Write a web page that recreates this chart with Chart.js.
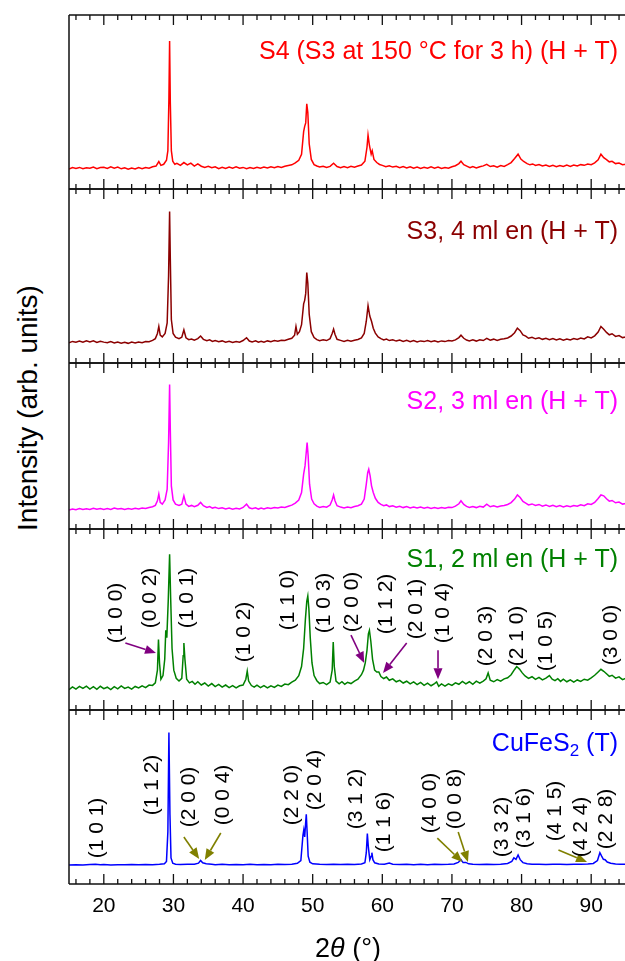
<!DOCTYPE html>
<html><head><meta charset="utf-8">
<script src="https://cdn.jsdelivr.net/npm/chart.js@4.4.1/dist/chart.umd.min.js"></script>
<style>
html,body{margin:0;padding:0;background:#fff;overflow:hidden;width:625px;height:961px;}
#wrap{position:relative;width:625px;height:961px;overflow:hidden;font-family:"Liberation Sans",Arial,sans-serif;}
canvas{position:absolute;}
.t{position:absolute;white-space:nowrap;line-height:1;}
.lbl{position:absolute;white-space:nowrap;font-size:21px;color:#000;line-height:1;transform:translate(-50%,-50%) rotate(-90deg);}
</style></head><body><div id="wrap"></div>
<script>
// ---------- axis / tick data ----------
const xMin = 15, xMax = 95;
const majorTicks = [20,30,40,50,60,70,80,90];
const minorTicks = [16,18,22,24,26,28,32,34,36,38,42,44,46,48,52,54,56,58,62,64,66,68,72,74,76,78,82,84,86,88,92,94];
const xTitle = '2<i>θ</i> (°)';
const yTitle = 'Intensity (arb. units)';

// ---------- series (2θ, intensity in panel units) ----------
const s4 = [[15,11.5],[15.5,12.3],[16,11.8],[16.5,12.4],[17,11.6],[17.5,12.2],[18,11.9],[18.5,12.6],[19,11.7],[19.5,12.3],[20,12.5],[20.5,11.8],[21,12.7],[21.5,12.0],[22,12.6],[22.5,11.6],[23,12.2],[23.5,11.4],[24,12.0],[24.5,11.5],[25,12.3],[25.5,11.7],[26,12.4],[26.5,12.0],[27,12.8],[27.5,13.2],[27.9,15.8],[28.2,13.6],[28.6,14.2],[29.0,16.5],[29.2,22],[29.35,52],[29.45,85],[29.55,50],[29.7,22],[29.9,16],[30.2,14.2],[30.5,14.8],[31,13.6],[31.5,15.2],[32,13.8],[32.5,14.9],[33,13.2],[33.5,14.4],[34,13.1],[34.5,12.4],[35,13.0],[35.5,12.2],[36,12.8],[36.5,11.7],[37,12.5],[37.5,11.8],[38,12.6],[38.5,12.0],[39,12.7],[39.5,11.9],[40,12.4],[40.5,11.6],[41,12.3],[41.5,11.8],[42,12.5],[42.5,11.9],[43,12.6],[43.5,12.1],[44,12.8],[44.5,12.2],[45,12.9],[45.5,12.4],[46,13.1],[46.5,13.5],[47,13.9],[47.5,15.0],[48,16.5],[48.4,20],[48.7,33],[48.85,36],[49.0,38],[49.15,49],[49.3,44],[49.5,26],[49.8,17],[50.2,14],[50.6,13.2],[51,12.6],[51.5,13.1],[52,12.4],[52.5,13.0],[53,14.8],[53.5,12.9],[54,12.2],[54.5,12.9],[55,12.3],[55.5,13.0],[56,12.5],[56.5,13.2],[57,13.8],[57.5,16],[57.8,24],[57.95,31],[58.15,25],[58.4,20],[58.55,22],[58.8,17],[59.2,15.2],[59.6,14.1],[60,13.6],[60.5,12.8],[61,13.4],[61.5,12.6],[62,13.1],[62.5,12.3],[63,12.9],[63.5,12.1],[64,12.8],[64.5,11.9],[65,12.6],[65.5,11.8],[66,12.5],[66.5,11.9],[67,12.7],[67.5,12.0],[68,12.6],[68.5,11.8],[69,12.4],[69.5,12.0],[70,12.8],[70.5,13.4],[71,14.6],[71.3,16],[71.7,14],[72.2,13.0],[72.6,12.2],[73,12.9],[73.5,12.1],[74,12.8],[74.5,13.3],[75,14.2],[75.5,12.9],[76,13.4],[76.5,12.6],[77,13.5],[77.5,13.0],[78,14.0],[78.5,15.2],[79,17.5],[79.5,20],[79.9,17.2],[80.3,15.8],[80.8,14.6],[81.2,13.9],[81.6,14.4],[82,13.5],[82.5,14.1],[83,13.2],[83.5,13.8],[84,12.9],[84.5,13.6],[85,12.8],[85.5,13.5],[86,12.9],[86.5,13.7],[87,13.0],[87.5,13.8],[88,13.2],[88.5,14.0],[89,13.6],[89.5,14.3],[90,14.0],[90.5,15.0],[91,16.8],[91.4,20],[91.8,18],[92.2,16.9],[92.6,15.6],[93,15.9],[93.5,14.6],[94,14.9],[94.5,14.0],[95,14.3]];

const s3 = [[15,11.6],[15.5,12.4],[16,11.9],[16.5,12.6],[17,12.0],[17.5,12.8],[18,12.1],[18.5,12.7],[19,11.8],[19.5,12.5],[20,12.0],[20.5,11.6],[21,12.3],[21.5,11.5],[22,12.1],[22.5,11.4],[23,11.9],[23.5,11.3],[24,12.0],[24.5,11.5],[25,12.1],[25.5,11.7],[26,12.4],[26.5,12.2],[27,13.0],[27.4,14.0],[27.7,17],[27.9,21],[28.1,16],[28.4,15.0],[28.8,17],[29.1,23],[29.3,50],[29.45,87],[29.55,60],[29.7,25],[29.95,17],[30.3,14.8],[30.8,14.0],[31.2,14.8],[31.5,19],[31.8,14.5],[32.2,13.4],[32.6,13.8],[33,13.1],[33.5,14.0],[33.9,15.5],[34.3,13.6],[34.8,12.8],[35.2,13.3],[35.6,12.4],[36,12.9],[36.5,12.2],[37,12.7],[37.5,12.0],[38,12.5],[38.5,11.8],[39,12.4],[39.5,12.0],[40,12.9],[40.5,14.5],[40.9,12.6],[41.3,12.1],[41.8,12.7],[42.2,11.9],[42.6,12.5],[43,12.0],[43.5,12.7],[44,12.2],[44.5,12.9],[45,12.5],[45.5,13.1],[46,12.9],[46.5,13.6],[47,14.2],[47.4,16],[47.6,21],[47.8,16.5],[48.1,18],[48.4,22],[48.7,34],[48.85,36],[49.0,40],[49.15,52],[49.3,46],[49.5,28],[49.8,18],[50.2,14.6],[50.6,13.4],[51,12.8],[51.5,13.3],[52,12.9],[52.5,14.0],[52.8,17],[53.0,19.5],[53.2,16.5],[53.5,13.6],[54,13.0],[54.5,12.4],[55,13.0],[55.5,12.5],[56,13.1],[56.5,13.5],[57,14.4],[57.4,17],[57.7,24],[57.95,33],[58.2,27],[58.45,24],[58.7,20],[59,17.2],[59.4,15.0],[59.8,14.0],[60.2,13.2],[60.6,13.8],[61,12.9],[61.5,13.4],[62,12.6],[62.5,13.2],[63,12.4],[63.5,13.0],[64,12.2],[64.5,12.9],[65,12.1],[65.5,12.7],[66,12.3],[66.5,12.9],[67,12.2],[67.5,12.8],[68,12.1],[68.5,12.7],[69,12.3],[69.5,12.9],[70,12.6],[70.5,13.3],[71,14.6],[71.3,16],[71.7,14.2],[72.1,13.2],[72.5,12.7],[73,13.3],[73.5,12.6],[74,13.4],[74.5,12.9],[75,14.2],[75.5,13.1],[76,13.7],[76.5,13.0],[77,13.6],[77.5,13.9],[78,14.4],[78.5,15.5],[79,17.4],[79.4,20],[79.8,18.6],[80.2,16.2],[80.6,15.4],[81,14.2],[81.5,14.8],[82,13.9],[82.5,14.5],[83,13.6],[83.5,14.2],[84,13.4],[84.5,14.1],[85,13.2],[85.5,13.9],[86,13.1],[86.5,13.8],[87,13.2],[87.5,14.0],[88,13.5],[88.5,14.4],[89,13.8],[89.5,15.0],[90,14.4],[90.5,15.6],[91,17.8],[91.4,21],[91.8,19.4],[92.2,17.6],[92.6,16.2],[93,16.8],[93.5,15.3],[94,15.8],[94.5,14.6],[95,15.0]];

const s2 = [[15,11.4],[15.5,12.1],[16,11.6],[16.5,12.3],[17,11.7],[17.5,12.2],[18,11.8],[18.5,12.5],[19,11.9],[19.5,12.4],[20,11.7],[20.5,12.3],[21,11.8],[21.5,12.6],[22,12.0],[22.5,12.4],[23,11.7],[23.5,12.3],[24,11.9],[24.5,12.5],[25,12.1],[25.5,12.7],[26,12.3],[26.5,13.0],[27,13.4],[27.4,14.2],[27.7,17],[27.9,21],[28.1,16],[28.4,15.0],[28.8,17.5],[29.1,24],[29.3,52],[29.45,87],[29.55,60],[29.7,26],[29.95,17.5],[30.3,15.0],[30.8,14.2],[31.2,15.0],[31.5,20],[31.8,15],[32.2,13.6],[32.6,14.2],[33,13.4],[33.5,14.3],[33.9,16],[34.3,14.0],[34.8,13.0],[35.2,13.5],[35.6,12.6],[36,13.1],[36.5,12.3],[37,12.8],[37.5,12.1],[38,12.6],[38.5,11.9],[39,12.5],[39.5,12.1],[40,13.0],[40.5,15],[40.9,12.8],[41.3,12.2],[41.8,12.8],[42.2,12.0],[42.6,12.6],[43,12.1],[43.5,12.8],[44,12.3],[44.5,13.0],[45,12.6],[45.5,13.2],[46,13.0],[46.5,13.7],[47,14.4],[47.5,15.6],[48,17.5],[48.4,22],[48.7,33],[48.9,38],[49.05,45],[49.2,52],[49.35,44],[49.55,27],[49.85,18],[50.2,15.2],[50.6,13.8],[51,13.0],[51.5,13.6],[52,13.1],[52.5,14.4],[52.8,17.5],[53.0,20.5],[53.2,17],[53.5,14.0],[54,13.2],[54.5,12.7],[55,13.3],[55.5,12.8],[56,13.5],[56.5,14.0],[57,15.0],[57.4,18],[57.7,27],[57.9,34],[58.05,36],[58.25,32],[58.45,26],[58.7,22],[59,18.5],[59.4,16.0],[59.8,14.8],[60.2,14.0],[60.6,14.5],[61,13.5],[61.5,14.0],[62,13.1],[62.5,13.7],[63,12.9],[63.5,13.5],[64,12.7],[64.5,13.3],[65,12.6],[65.5,13.2],[66,12.5],[66.5,13.1],[67,12.4],[67.5,13.0],[68,12.3],[68.5,12.9],[69,12.5],[69.5,13.1],[70,12.9],[70.5,13.8],[71,15.2],[71.3,17],[71.7,14.8],[72.1,13.6],[72.5,13.0],[73,13.6],[73.5,12.9],[74,13.7],[74.5,13.2],[75,15],[75.5,13.4],[76,14.0],[76.5,13.3],[77,13.9],[77.5,14.2],[78,14.8],[78.5,15.9],[79,18.0],[79.4,20.5],[79.8,19.0],[80.2,16.6],[80.6,15.6],[81,14.5],[81.5,15.1],[82,14.2],[82.5,14.8],[83,13.8],[83.5,14.5],[84,13.6],[84.5,14.3],[85,13.4],[85.5,14.1],[86,13.3],[86.5,14.0],[87,13.4],[87.5,14.2],[88,13.7],[88.5,14.6],[89,14.0],[89.5,15.2],[90,14.8],[90.5,16.0],[91,18.4],[91.4,20.5],[91.8,20.0],[92.2,18.2],[92.6,16.8],[93,17.2],[93.5,15.8],[94,16.2],[94.5,15.0],[95,15.4]];

const s1 = [[15,11.2],[15.5,12.8],[16,11.5],[16.5,13.0],[17,11.9],[17.5,13.2],[18,11.6],[18.5,12.9],[19,11.4],[19.5,13.1],[20,11.8],[20.5,12.6],[21,11.3],[21.5,12.9],[22,11.7],[22.5,13.3],[23,11.9],[23.5,12.7],[24,11.5],[24.5,13.0],[25,12.2],[25.5,13.4],[26,12.4],[26.5,13.8],[27,13.6],[27.4,15.0],[27.7,22],[27.85,39],[28.0,26],[28.2,17],[28.5,19],[28.75,28],[28.9,44],[29.05,40],[29.25,60],[29.45,86],[29.6,62],[29.8,34],[30.05,22],[30.4,17.5],[30.8,16.0],[31.2,17.5],[31.4,30],[31.5,37],[31.65,28],[31.9,17],[32.3,15.0],[32.7,15.8],[33.1,14.2],[33.5,15.6],[34,13.8],[34.5,14.9],[35,13.2],[35.5,14.6],[36,12.9],[36.5,14.1],[37,12.6],[37.5,13.8],[38,12.4],[38.5,13.5],[39,12.2],[39.5,13.4],[40,13.8],[40.4,17],[40.6,21.5],[40.8,16],[41.2,13.5],[41.6,12.6],[42,13.7],[42.5,12.4],[43,13.5],[43.5,12.2],[44,13.4],[44.5,12.5],[45,13.8],[45.5,13.0],[46,14.3],[46.5,14.0],[47,15.4],[47.5,16.5],[48,19],[48.4,24],[48.7,34],[48.95,50],[49.15,60],[49.3,63],[49.45,56],[49.65,40],[49.9,26],[50.2,19],[50.6,16.2],[51,14.6],[51.5,15.2],[52,14.0],[52.5,15.4],[52.8,22],[52.95,37.5],[53.1,24],[53.35,16],[53.8,14.5],[54.2,15.6],[54.6,14.2],[55,15.3],[55.5,14.6],[56,16.0],[56.5,17.0],[57,19.5],[57.3,22],[57.55,26],[57.8,33],[58.0,42],[58.15,44],[58.35,38],[58.6,28],[58.9,22],[59.2,21],[59.5,21],[59.8,18.5],[60.2,17.4],[60.6,18.2],[61,16.4],[61.5,17.2],[62,15.6],[62.5,16.4],[63,14.9],[63.5,15.9],[64,14.4],[64.5,15.5],[65,14.0],[65.5,15.2],[66,13.6],[66.5,14.8],[67,13.4],[67.5,14.6],[67.8,15.5],[68.1,13.1],[68.5,14.4],[69,13.2],[69.5,14.5],[70,13.6],[70.5,15.0],[71,14.2],[71.5,15.8],[72,14.4],[72.5,15.6],[73,14.2],[73.5,15.9],[74,14.8],[74.5,16.0],[74.9,17.2],[75.2,20.5],[75.5,16.4],[76,15.6],[76.5,16.8],[77,15.9],[77.5,17.2],[78,17.8],[78.5,19.5],[79,22.4],[79.3,24],[79.7,22.6],[80.1,20.5],[80.5,18.8],[81,17.5],[81.5,18.4],[82,16.9],[82.5,18.0],[83,16.6],[83.5,17.6],[84,19],[84.4,17.0],[84.8,16.2],[85.2,17.3],[85.6,15.8],[86,17.0],[86.5,15.6],[87,16.7],[87.5,15.4],[88,16.6],[88.5,15.8],[89,17.0],[89.5,16.5],[90,17.8],[90.5,19.2],[91,21.0],[91.4,22.5],[91.8,21.4],[92.2,20.0],[92.6,18.6],[93,19.2],[93.5,17.6],[94,18.3],[94.5,16.8],[95,17.5]];

const cufes2 = [[15,10.9],[16,11.1],[17,10.9],[18,11.2],[18.8,11.4],[19.5,11.0],[20,11.2],[21,10.9],[22,11.1],[23,11.0],[24,11.2],[25,11.0],[26,11.2],[27,11.1],[28,11.3],[28.7,11.6],[29.0,13],[29.2,30],[29.35,87],[29.5,40],[29.65,15],[29.9,12],[30.3,11.4],[31,11.2],[32,11.3],[33,11.4],[33.6,12.0],[33.9,13.5],[34.2,12.2],[34.7,11.6],[35.5,11.3],[36,11.1],[37,11.3],[38,11.1],[39,11.2],[40,11.1],[41,11.3],[42,11.1],[43,11.2],[44,11.1],[45,11.3],[46,11.2],[47,11.4],[47.8,11.9],[48.3,13.5],[48.6,28],[48.72,31],[48.85,27],[48.95,33],[49.08,40],[49.2,30],[49.35,16],[49.6,12.5],[50,11.6],[51,11.3],[52,11.2],[53,11.4],[54,11.2],[55,11.3],[56,11.2],[57,11.5],[57.5,12.2],[57.7,18],[57.85,29],[58.0,21],[58.2,14],[58.4,16],[58.5,18],[58.65,14],[58.9,12.2],[59.5,11.5],[60.3,11.3],[61,12.0],[61.5,11.4],[62.5,11.2],[63.5,11.3],[64.5,11.1],[65.5,11.3],[66.5,11.1],[67.5,11.3],[68.5,11.2],[69.5,11.3],[70.3,11.5],[70.9,12.4],[71.3,14],[71.6,12.3],[72.0,12.4],[72.4,11.6],[73,11.3],[74,11.2],[75,11.3],[76,11.2],[77,11.4],[78,11.8],[78.6,13.0],[78.9,15],[79.2,14.2],[79.5,16.7],[79.8,14.0],[80.2,12.3],[80.8,11.6],[81.5,11.4],[82.5,11.3],[83.5,11.2],[84.5,11.4],[85.5,11.3],[86.5,11.2],[87.5,11.4],[88.5,11.3],[89.5,11.5],[90.3,11.8],[90.9,13.5],[91.25,18],[91.5,16],[91.75,14.2],[92.0,14],[92.3,12.6],[92.8,11.9],[93.5,11.5],[94.2,11.3],[95,11.4]];

// ---------- panel names ----------
const panelNames = ['S4 (S3 at 150 °C for 3 h) (H + T)','S3, 4 ml en (H + T)','S2, 3 ml en (H + T)','S1, 2 ml en (H + T)','CuFeS<sub style="font-size:0.68em;vertical-align:-0.28em;line-height:0">2</sub> (T)'];

// ---------- reflection labels ----------
const s1Hkl  = ['(1 0 0)','(0 0 2)','(1 0 1)','(1 0 2)','(1 1 0)','(1 0 3)','(2 0 0)','(1 1 2)','(2 0 1)','(1 0 4)','(2 0 3)','(2 1 0)','(1 0 5)','(3 0 0)'];
const s1HklX = [21.5,26.3,31.7,39.8,46.2,51.3,55.3,60.2,64.5,68.5,74.6,79.0,83.2,92.5];
const s1HklY = [53.6,61.9,61.9,43,60.8,59,59.7,58.6,55.8,53.6,40.9,40.9,38,41.4];
const s1Arrows = [[23.1,37,27.5,31.5],[55.5,41.4,57.4,26],[63.5,37,60.1,20.4],[68.0,33,68.0,17]];

const cuHkl  = ['(1 0 1)','(1 1 2)','(2 0 0)','(0 0 4)','(2 2 0)','(2 0 4)','(3 1 2)','(1 1 6)','(4 0 0)','(0 0 8)','(3 3 2)','(3 1 6)','(4 1 5)','(4 2 4)','(2 2 8)'];
const cuHklX = [18.8,26.7,31.9,36.8,46.7,50.0,55.9,60.0,66.6,70.1,76.9,80.1,84.5,88.3,91.9];
const cuHklY = [32.2,56.9,50,51.1,51.1,59.8,48.8,35.6,46.5,48.8,32.8,37.9,42,32.8,37.4];
const cuArrows = [[31.5,27,33.7,14.4],[36.8,29.3,34.5,13.8],[67.9,26.4,71.5,12.6],[70.9,29.9,72.3,12.6],[85.3,19.5,89.4,12.6]];

// ---------- layout ----------
const PL = 69, PR = 626, PAD = 12;
const panels = [
  {data:s4, color:'#ff0000', top:15,  bottom:189, name:panelNames[0], ty:50},
  {data:s3, color:'#8b0000', top:189, bottom:363, name:panelNames[1], ty:230},
  {data:s2, color:'#ff00ff', top:363, bottom:529, name:panelNames[2], ty:400},
  {data:s1, color:'#008000', top:529, bottom:710, name:panelNames[3], ty:558, hkl:[s1Hkl,s1HklX,s1HklY], arrows:s1Arrows, arrowColor:'#800080'},
  {data:cufes2, color:'#0000ff', top:710, bottom:884, name:panelNames[4], ty:742, hkl:[cuHkl,cuHklX,cuHklY], arrows:cuArrows, arrowColor:'#808000', last:true}
];

const wrap = document.getElementById('wrap');

const framePlugin = {
  id:'frame',
  afterDatasetsDraw(chart, args, opts){
    const ctx = chart.ctx, a = chart.chartArea, x = chart.scales.x, y = chart.scales.y;
    ctx.save();
    ctx.strokeStyle = '#111'; ctx.lineWidth = 1.5;
    ctx.beginPath();
    ctx.moveTo(a.left, a.top); ctx.lineTo(a.left, a.bottom);
    ctx.moveTo(a.left, a.top); ctx.lineTo(a.right + 6, a.top);
    ctx.moveTo(a.left, a.bottom); ctx.lineTo(a.right + 6, a.bottom);
    ctx.stroke();
    ctx.lineWidth = 1.3;
    ctx.beginPath();
    majorTicks.forEach(v => { const p = x.getPixelForValue(v);
      ctx.moveTo(p, a.top); ctx.lineTo(p, a.top + 10);
      ctx.moveTo(p, a.bottom); ctx.lineTo(p, a.bottom - 10); });
    minorTicks.forEach(v => { const p = x.getPixelForValue(v);
      ctx.moveTo(p, a.top); ctx.lineTo(p, a.top + 5);
      ctx.moveTo(p, a.bottom); ctx.lineTo(p, a.bottom - 5); });
    ctx.stroke();
    if (opts.arrows) {
      ctx.strokeStyle = opts.arrowColor; ctx.fillStyle = opts.arrowColor; ctx.lineWidth = 1.6;
      opts.arrows.forEach(([x0,y0,x1,y1]) => {
        const px0 = x.getPixelForValue(x0), py0 = y.getPixelForValue(y0);
        const px1 = x.getPixelForValue(x1), py1 = y.getPixelForValue(y1);
        const ang = Math.atan2(py1-py0, px1-px0), L = 11, W = 4.5;
        const bx = px1 - L*Math.cos(ang), by = py1 - L*Math.sin(ang);
        ctx.beginPath(); ctx.moveTo(px0,py0); ctx.lineTo(bx,by); ctx.stroke();
        ctx.beginPath(); ctx.moveTo(px1,py1);
        ctx.lineTo(bx - W*Math.sin(ang), by + W*Math.cos(ang));
        ctx.lineTo(bx + W*Math.sin(ang), by - W*Math.cos(ang));
        ctx.closePath(); ctx.fill();
      });
    }
    ctx.restore();
  }
};

panels.forEach(p => {
  const cv = document.createElement('canvas');
  const top = p.top - PAD;
  const h = p.last ? (961 - top) : (p.bottom - p.top + 2*PAD);
  const w = PR - PL + 2*PAD;
  cv.width = w; cv.height = h;
  cv.style.left = (PL - PAD) + 'px'; cv.style.top = top + 'px';
  cv.style.width = w + 'px'; cv.style.height = h + 'px';
  wrap.appendChild(cv);
  const axisH = 40;
  const padBottom = p.last ? (h - PAD - (p.bottom - p.top) - axisH) : PAD;
  const xOpts = {type:'linear', min:xMin, max:xMax, display:!!p.last,
    grid:{display:false, drawTicks:false}, border:{display:false},
    afterBuildTicks:s => { s.ticks = majorTicks.map(v => ({value:v})); },
    ticks:{color:'#000', font:{family:'"Liberation Sans", Arial, sans-serif', size:21}, padding:10, maxRotation:0, autoSkip:false}};
  if (p.last) xOpts.afterFit = s => { s.height = axisH; };
  const chart = new Chart(cv, {
    type:'line',
    data:{datasets:[{data:p.data.map(([a,b]) => ({x:a, y:b})), borderColor:p.color, borderWidth:1.5, pointRadius:0, tension:0, fill:false}]},
    options:{
      responsive:false, animation:false, devicePixelRatio:1,
      layout:{padding:{left:PAD, right:PAD, top:PAD, bottom:padBottom}},
      plugins:{legend:{display:false}, tooltip:{enabled:false},
        frame:{arrows:p.arrows || null, arrowColor:p.arrowColor}},
      scales:{ x:xOpts, y:{min:0, max:100, display:false} }
    },
    plugins:[framePlugin]
  });
  // panel name
  const t = document.createElement('div');
  t.className = 't'; t.innerHTML = p.name;
  t.style.color = p.color; t.style.fontSize = '25px';
  t.style.right = (625 - 618) + 'px'; t.style.top = (p.ty - 12.5) + 'px';
  wrap.appendChild(t);
  // reflection labels
  if (p.hkl) {
    const [txt, xs, ys] = p.hkl;
    txt.forEach((s, i) => {
      const d = document.createElement('div');
      d.className = 'lbl'; d.textContent = s;
      d.style.left = (PL - PAD + chart.scales.x.getPixelForValue(xs[i])) + 'px';
      d.style.top = (top + chart.scales.y.getPixelForValue(ys[i])) + 'px';
      wrap.appendChild(d);
    });
  }
});

// axis titles
const yt = document.createElement('div');
yt.className = 't'; yt.textContent = yTitle; yt.style.fontSize = '28px';
yt.style.left = '28px'; yt.style.top = '408px';
yt.style.transform = 'translate(-50%,-50%) rotate(-90deg)';
wrap.appendChild(yt);
const xt = document.createElement('div');
xt.className = 't'; xt.innerHTML = xTitle; xt.style.fontSize = '27px';
xt.style.left = '348px'; xt.style.top = '948px';
xt.style.transform = 'translate(-50%,-50%)';
wrap.appendChild(xt);
</script>
</body></html>
